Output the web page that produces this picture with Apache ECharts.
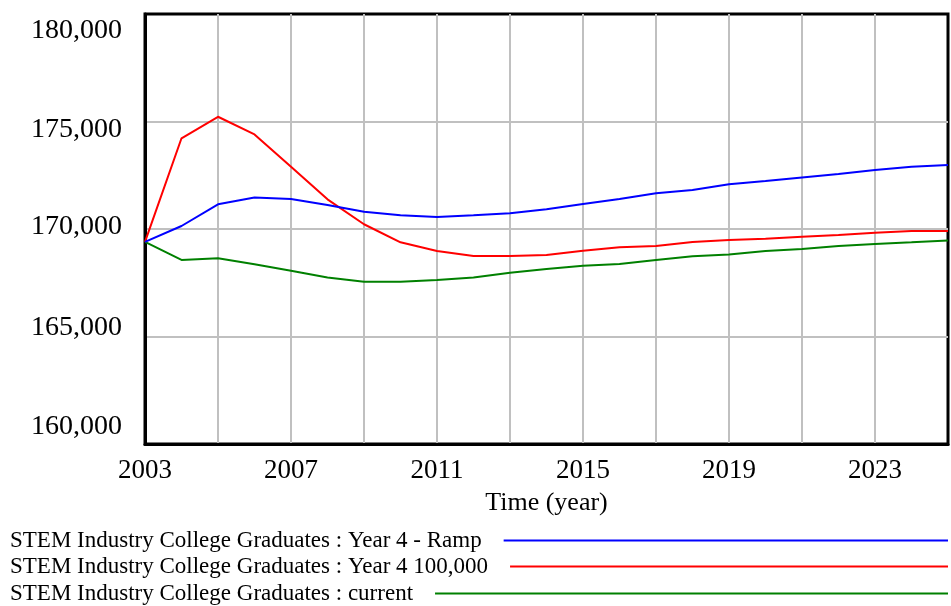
<!DOCTYPE html>
<html>
<head>
<meta charset="utf-8">
<script src="https://cdn.jsdelivr.net/npm/echarts@6/dist/echarts.min.js"></script>
<style>
html,body{margin:0;padding:0;background:#fff;}
#chart{width:951px;height:606px;}
</style>
</head>
<body>
<div id="chart"></div>
<script>
// ---- data ----
const years = [2003,2004,2005,2006,2007,2008,2009,2010,2011,2012,2013,2014,2015,2016,2017,2018,2019,2020,2021,2022,2023,2024,2025];
const rampValues = [169400,170140,171150,171470,171400,171120,170800,170640,170560,170640,170730,170920,171160,171400,171660,171810,172080,172230,172400,172560,172740,172900,172980];
const year4Values = [169400,174220,175220,174400,172900,171380,170220,169380,168980,168740,168740,168790,168990,169150,169210,169400,169490,169550,169640,169720,169830,169910,169910];
const currentValues = [169400,168560,168640,168360,168060,167740,167550,167550,167630,167740,167970,168140,168290,168370,168560,168730,168810,168980,169070,169210,169300,169380,169470];
const seriesNames = [
  'STEM Industry College Graduates : Year 4 - Ramp',
  'STEM Industry College Graduates : Year 4 100,000',
  'STEM Industry College Graduates : current'
];
const yTicks = [160000,165000,170000,175000,180000];
const xLabelYears = [2003,2007,2011,2015,2019,2023];
const axisTitle = 'Time (year)';

// ---- styling ----
const FONT = '"Liberation Serif","Times New Roman",serif';
const colors = ['#0000ff','#ff0000','#008000'];
const seriesData = [rampValues, year4Values, currentValues];
const legendFontSize = 23;
const legendTops = [529, 555, 582];
const lineEnd = 948, legendLeft = 10, textGap = 22;

const cv = document.createElement('canvas').getContext('2d');
cv.font = legendFontSize + 'px ' + FONT;

const legends = seriesNames.map((n, i) => {
  const tw = cv.measureText(n).width;
  return {
    data: [n],
    left: legendLeft,
    top: legendTops[i],
    align: 'right',
    icon: 'rect',
    itemHeight: 2,
    itemWidth: Math.max(10, lineEnd - legendLeft - tw - textGap),
    padding: 0,
    selectedMode: false,
    textStyle: {fontFamily: FONT, fontSize: legendFontSize, color: '#000', padding: [0, textGap - 5, 0, 0]}
  };
});

// label vertical offsets (px) for y ticks to mimic reference spacing
const yOffsets = {160000: -17, 165000: -9, 170000: -2, 175000: 8, 180000: 17};
const rich = {};
Object.keys(yOffsets).forEach(k => {
  const d = yOffsets[k];
  rich['t' + k] = {
    fontFamily: FONT, fontSize: 28, color: '#000',
    padding: d >= 0 ? [2 * d, 0, 0, 0] : [0, 0, -2 * d, 0]
  };
});

const chart = echarts.init(document.getElementById('chart'), null, {renderer: 'canvas'});
chart.setOption({
  backgroundColor: '#fff',
  animation: false,
  grid: {left: 145, right: 3, top: 14, bottom: 162, show: true, borderColor: '#000', borderWidth: 3, backgroundColor: 'transparent'},
  legend: legends,
  xAxis: {
    type: 'value', min: 2003, max: 2025, interval: 2,
    name: axisTitle, nameLocation: 'middle', nameGap: 46,
    nameTextStyle: {fontFamily: FONT, fontSize: 26, color: '#000'},
    axisLine: {show: true, lineStyle: {color: '#000', width: 3}},
    axisTick: {show: false},
    splitLine: {show: true, showMinLine: false, showMaxLine: false, lineStyle: {color: '#c0c0c0', width: 2}},
    axisLabel: {
      fontFamily: FONT, fontSize: 27, color: '#000', margin: 13,
      showMinLabel: true, showMaxLabel: false,
      formatter: v => xLabelYears.indexOf(v) >= 0 ? String(v) : ''
    }
  },
  yAxis: {
    type: 'value', min: 160000, max: 180000, interval: 5000,
    axisLine: {show: true, lineStyle: {color: '#000', width: 3}},
    axisTick: {show: false},
    splitLine: {show: true, showMinLine: false, showMaxLine: false, lineStyle: {color: '#c0c0c0', width: 2}},
    axisLabel: {
      margin: 23,
      formatter: v => yTicks.indexOf(v) >= 0 ? '{t' + v + '|' + v.toLocaleString('en-US') + '}' : '',
      rich: rich
    }
  },
  series: seriesNames.map((n, i) => ({
    name: n, type: 'line', showSymbol: false, symbol: 'none',
    z: 3 - i,
    lineStyle: {color: colors[i], width: 2},
    itemStyle: {color: colors[i]},
    data: years.map((y, j) => [y, seriesData[i][j]])
  }))
});
</script>
</body>
</html>
